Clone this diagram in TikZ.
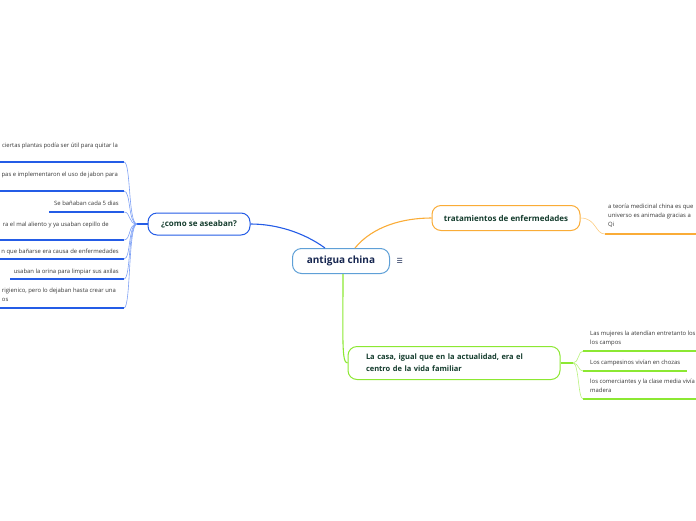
\documentclass[tikz,border=0pt]{standalone}
\usepackage{fontspec}
\setmainfont{Open Sans}
\newfontfamily\iconfont{DejaVu Sans}
\usepackage{xcolor}
\usetikzlibrary{positioning}
\definecolor{washblue}{RGB}{36,92,230}
\definecolor{washlight}{RGB}{125,160,245}
\definecolor{rootedge}{RGB}{95,160,215}
\definecolor{rootnavy}{RGB}{22,38,80}
\definecolor{cureorange}{RGB}{250,172,55}
\definecolor{curelight}{RGB}{252,205,130}
\definecolor{homegreen}{RGB}{140,232,50}
\definecolor{homelight}{RGB}{185,242,125}
\definecolor{topictext}{RGB}{20,60,45}
\definecolor{leaftext}{RGB}{55,55,55}

\begin{document}
\begin{tikzpicture}[
  x=1pt,y=-1pt,
  root/.style={draw=rootedge,line width=1pt,rounded corners=9pt,fill=white,
               font=\fontsize{10}{12}\selectfont\bfseries,text=rootnavy,
               minimum width=97pt,minimum height=25pt,inner sep=0pt},
  topic/.style={line width=1pt,rounded corners=9pt,fill=white,align=left,
                font=\fontsize{8}{12}\selectfont\bfseries,text=topictext,inner ysep=0pt},
  leaf/.style={font=\fontsize{5.9}{9}\selectfont,text=leaftext,align=left,inner sep=0pt},
  bline/.style={draw=washblue,line width=1.3pt},
  oline/.style={draw=cureorange,line width=1.3pt},
  gline/.style={draw=homegreen,line width=1.3pt},
  btwig/.style={draw=washlight,line width=0.6pt},
  otwig/.style={draw=curelight,line width=0.6pt},
  gtwig/.style={draw=homelight,line width=0.6pt}
]
\useasboundingbox (0,0) rectangle (696,520);

% centre
\node[root] (china) at (341,261) {antigua china};
\node[font=\iconfont\fontsize{7}{7}\selectfont,text=rootnavy,right=3pt of china] (menu) {☰};

% main topics
\node[topic,draw=washblue,minimum width=102pt,minimum height=22pt] (wash) at (199,224) {¿como se aseaban?};
\node[topic,draw=cureorange,minimum width=148pt,minimum height=25pt] (cure) at (506,218) {tratamientos de enfermedades};
\node[topic,draw=homegreen,font=\fontsize{7.5}{12}\selectfont\bfseries,text width=176pt,inner xsep=18pt,minimum height=33pt] (house) at (454,363)
     {La casa, igual que en la actualidad, era el\\centro de la vida familiar};

\draw[draw=washblue,line width=1.1pt] ([xshift=-16pt]china.north) .. controls +(-22,-16) and +(25,0) .. (wash.east);
\draw[draw=cureorange,line width=1.1pt] ([xshift=14pt]china.north) .. controls +(18,-22) and +(-28,0) .. (cure.west);
\draw[draw=homegreen,line width=1.1pt] ([xshift=2pt]china.south) .. controls +(0,65) and +(-6,0) .. (house.west);

% left leaves
\node[leaf,anchor=east] (w1) at (118,146) {ciertas plantas podía ser útil para quitar la};
\node[leaf,anchor=east] (w2) at (118,175) {pas e implementaron el uso de jabon para};
\node[leaf,anchor=east] (w3) at (119,203) {Se bañaban cada 5 dias};
\node[leaf,anchor=east] (w4) at (109,225) {ra el mal aliento y ya usaban cepillo de};
\node[leaf,anchor=east] (w5) at (119,252) {n que bañarse era causa de enfermedades};
\node[leaf,anchor=east] (w6) at (119,272) {usaban la orina para limpiar sus axilas};
\node[leaf,anchor=north east] (w7) at (116,288) {rigienico, pero lo dejaban hasta crear una\\os};

\coordinate (whub) at (137,224);
\coordinate (u1) at (124,162);
\coordinate (u2) at (124,191);
\coordinate (u3) at (124,212);
\coordinate (u4) at (124,240);
\coordinate (u5) at (124,259);
\coordinate (u6) at (124,279);
\coordinate (u7) at (124,308);

\draw[bline] (wash.west) -- (whub);
\draw[bline] (u1) -- ++(-140,0);
\draw[bline] (u2) -- ++(-140,0);
\draw[bline] (u3) -- ([xshift=-5pt]w3.west |- u3);
\draw[bline] (u4) -- ++(-140,0);
\draw[bline] (u5) -- ++(-140,0);
\draw[bline] (u6) -- ([xshift=-4pt]w6.west |- u6);
\draw[bline] (u7) -- ++(-140,0);
\draw[btwig] (whub) .. controls +(-9,0) and +(7,0) .. (u1);
\draw[btwig] (whub) .. controls +(-9,0) and +(7,0) .. (u2);
\draw[btwig] (whub) .. controls +(-9,0) and +(7,0) .. (u3);
\draw[btwig] (whub) .. controls +(-9,0) and +(7,0) .. (u4);
\draw[btwig] (whub) .. controls +(-9,0) and +(7,0) .. (u5);
\draw[btwig] (whub) .. controls +(-9,0) and +(7,0) .. (u6);
\draw[btwig] (whub) .. controls +(-9,0) and +(7,0) .. (u7);

% orange leaf
\node[leaf,anchor=north west] (c1) at (608,204) {a teoría medicinal china es que\\universo es animada gracias a\\Qi};
\coordinate (o1) at (605,234);
\draw[oline] (o1) -- ++(100,0);
\draw[otwig] (cure.east) .. controls +(16,0) and +(-10,0) .. (o1);

% green leaves
\node[leaf,anchor=north west] (h1) at (590,330.5) {Las mujeres la atendían entretanto los\\los campos};
\node[leaf,anchor=west] (h2) at (590,363) {Los campesinos vivían en chozas};
\node[leaf,anchor=north west] (h3) at (590,378.5) {los comerciantes y la clase media vivía\\madera};

\coordinate (ghub) at (573,363);
\coordinate (g1) at (583,351);
\coordinate (g2) at (583,371);
\coordinate (g3) at (583,399);

\draw[gline] (house.east) -- (ghub);
\draw[gline] (g1) -- ++(120,0);
\draw[gline] (g2) -- (687,371);
\draw[gline] (g3) -- ++(120,0);
\draw[gtwig] (ghub) .. controls +(6,0) and +(-5,0) .. (g1);
\draw[gtwig] (ghub) .. controls +(6,0) and +(-5,0) .. (g2);
\draw[gtwig] (ghub) .. controls +(6,0) and +(-5,0) .. (g3);
\end{tikzpicture}
\end{document}
